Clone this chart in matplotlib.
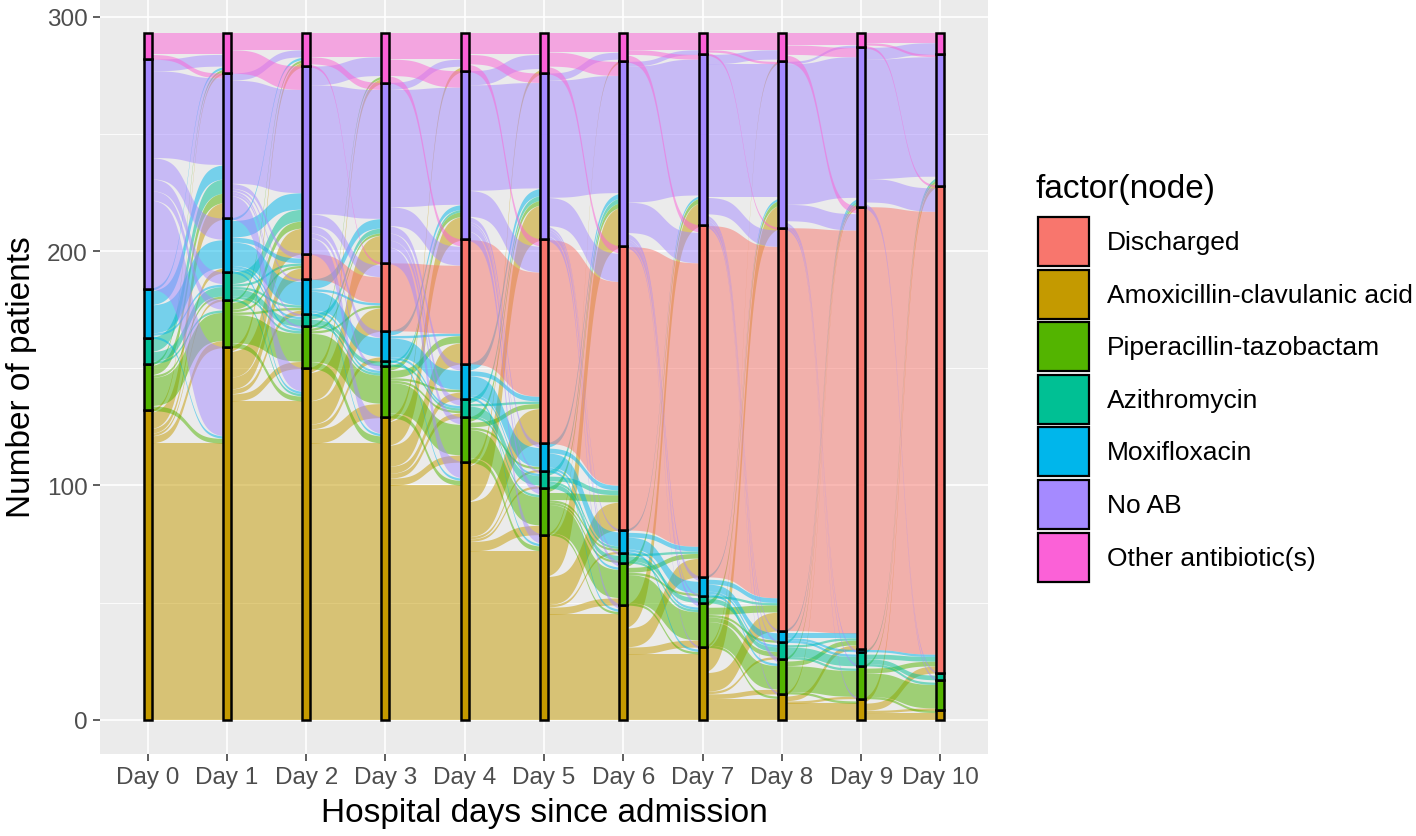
import matplotlib
matplotlib.use("Agg")

import matplotlib.pyplot as plt
from matplotlib.patches import Rectangle
import numpy as np

plt.rcParams["font.family"] = ["Liberation Sans", "DejaVu Sans"]

# ------------------------------------------------------------
# DATA
# ------------------------------------------------------------
days = ["Day 0", "Day 1", "Day 2", "Day 3", "Day 4", "Day 5",
        "Day 6", "Day 7", "Day 8", "Day 9", "Day 10"]

# legend order
legend_order = ["Discharged", "Amoxicillin-clavulanic acid",
                "Piperacillin-tazobactam", "Azithromycin",
                "Moxifloxacin", "No AB", "Other antibiotic(s)"]

# stacking order, bottom to top
stack_order = ["Amoxicillin-clavulanic acid", "Piperacillin-tazobactam",
               "Azithromycin", "Moxifloxacin", "Discharged", "No AB",
               "Other antibiotic(s)"]

colors = {
    "Discharged": "#F8766D",
    "Amoxicillin-clavulanic acid": "#C49A00",
    "Piperacillin-tazobactam": "#53B400",
    "Azithromycin": "#00C094",
    "Moxifloxacin": "#00B6EB",
    "No AB": "#A58AFF",
    "Other antibiotic(s)": "#FB61D7",
}

# patients per node and day
amox       = [132, 159, 150, 129, 110, 79, 49, 31, 11, 9, 4]
pip_tazo   = [20, 20, 18, 22, 19, 20, 18, 19, 15, 14, 13]
azithro    = [11, 12, 5, 2, 8, 7, 4, 3, 7, 6, 3]
moxi       = [21, 23, 15, 13, 15, 12, 10, 8, 5, 1, 0]
discharged = [0, 0, 11, 29, 53, 87, 121, 150, 172, 189, 208]
no_ab      = [98, 62, 80, 77, 72, 71, 79, 73, 71, 68, 56]
other_ab   = [11, 17, 14, 21, 16, 17, 12, 9, 12, 6, 9]

node_counts = [amox, pip_tazo, azithro, moxi, discharged, no_ab, other_ab]

# flows day t -> day t+1, rows = from, cols = to (stack order)
transitions = [
    # Day 0 -> Day 1
    [[118, 3, 1, 2, 0, 7, 1],
     [2, 12, 1, 0, 0, 4, 1],
     [0, 1, 4, 0, 0, 6, 0],
     [1, 0, 1, 12, 0, 6, 1],
     [0, 0, 0, 0, 0, 0, 0],
     [38, 4, 5, 9, 0, 37, 5],
     [0, 0, 0, 0, 0, 2, 9]],
    # Day 1 -> Day 2
    [[136, 3, 0, 2, 5, 11, 2],
     [2, 12, 0, 1, 1, 3, 1],
     [1, 1, 3, 1, 1, 5, 0],
     [1, 1, 1, 10, 2, 7, 1],
     [0, 0, 0, 0, 0, 0, 0],
     [10, 1, 1, 1, 2, 44, 3],
     [0, 0, 0, 0, 0, 10, 7]],
    # Day 2 -> Day 3
    [[118, 6, 0, 2, 10, 12, 2],
     [3, 12, 0, 0, 1, 1, 1],
     [0, 1, 2, 0, 0, 2, 0],
     [1, 1, 0, 8, 1, 4, 0],
     [0, 0, 0, 0, 11, 0, 0],
     [7, 2, 0, 3, 5, 55, 8],
     [0, 0, 0, 0, 1, 3, 10]],
    # Day 3 -> Day 4
    [[100, 3, 2, 3, 9, 10, 2],
     [2, 13, 1, 1, 3, 2, 0],
     [0, 0, 1, 0, 0, 1, 0],
     [1, 0, 1, 8, 1, 2, 0],
     [0, 0, 0, 0, 29, 0, 0],
     [7, 3, 3, 3, 8, 50, 3],
     [0, 0, 0, 0, 3, 7, 11]],
    # Day 4 -> Day 5
    [[72, 4, 1, 1, 15, 15, 2],
     [2, 12, 0, 1, 2, 2, 0],
     [0, 1, 4, 0, 1, 2, 0],
     [1, 0, 1, 8, 2, 3, 0],
     [0, 0, 0, 0, 53, 0, 0],
     [4, 3, 1, 2, 11, 45, 6],
     [0, 0, 0, 0, 3, 4, 9]],
    # Day 5 -> Day 6
    [[45, 3, 0, 1, 12, 17, 1],
     [1, 12, 1, 1, 3, 2, 0],
     [0, 0, 2, 1, 2, 2, 0],
     [1, 1, 0, 6, 2, 2, 0],
     [0, 0, 0, 0, 87, 0, 0],
     [2, 2, 1, 1, 12, 50, 3],
     [0, 0, 0, 0, 3, 6, 8]],
    # Day 6 -> Day 7
    [[28, 3, 0, 0, 8, 10, 0],
     [1, 12, 0, 1, 2, 2, 0],
     [0, 1, 2, 0, 1, 0, 0],
     [1, 1, 0, 5, 2, 1, 0],
     [0, 0, 0, 0, 121, 0, 0],
     [1, 2, 1, 2, 13, 58, 2],
     [0, 0, 0, 0, 3, 2, 7]],
    # Day 7 -> Day 8
    [[9, 2, 1, 0, 8, 10, 1],
     [1, 10, 2, 1, 3, 2, 0],
     [0, 0, 2, 0, 1, 0, 0],
     [0, 1, 1, 3, 2, 1, 0],
     [0, 0, 0, 0, 150, 0, 0],
     [1, 2, 1, 1, 7, 57, 4],
     [0, 0, 0, 0, 1, 1, 7]],
    # Day 8 -> Day 9
    [[7, 1, 0, 0, 2, 1, 0],
     [1, 11, 0, 0, 2, 1, 0],
     [0, 1, 4, 0, 1, 1, 0],
     [0, 0, 1, 1, 2, 1, 0],
     [0, 0, 0, 0, 172, 0, 0],
     [1, 1, 1, 0, 7, 60, 1],
     [0, 0, 0, 0, 3, 4, 5]],
    # Day 9 -> Day 10
    [[3, 1, 0, 0, 3, 2, 0],
     [1, 10, 0, 0, 2, 1, 0],
     [0, 1, 2, 0, 2, 1, 0],
     [0, 0, 0, 0, 1, 0, 0],
     [0, 0, 0, 0, 189, 0, 0],
     [0, 1, 1, 0, 10, 51, 5],
     [0, 0, 0, 0, 1, 1, 4]],
]

# ------------------------------------------------------------
# FIGURE
# ------------------------------------------------------------
W, H = 1416, 837
fig = plt.figure(figsize=(W / 100, H / 100), dpi=100)
ax = fig.add_axes([100 / W, 1 - 755 / H, 888 / W, 755 / H])
ax.set_facecolor("#EBEBEB")

n_days = len(days)
ncat = len(stack_order)
xs = np.arange(n_days)
node_w = 0.1

counts = np.array(node_counts, dtype=float)      # (ncat, n_days)
bottoms = np.vstack([np.zeros(n_days), np.cumsum(counts, axis=0)[:-1]])


def ribbon(x0, x1, a0, b0, a1, b1, color):
    t = np.linspace(0, 1, 120)
    s = 1 / (1 + np.exp(-11 * (t - 0.5)))
    s = (s - s[0]) / (s[-1] - s[0])
    xx = x0 + (x1 - x0) * t
    lo = a0 + (a1 - a0) * s
    hi = b0 + (b1 - b0) * s
    ax.fill_between(xx, lo, hi, color=color, alpha=0.5, lw=0, zorder=2)


# flows
for t, mat in enumerate(transitions):
    mat = np.array(mat, dtype=float)
    src_off = bottoms[:, t].copy()
    dst_off = bottoms[:, t + 1].copy()
    # destination offsets: stacked by source order
    dst_pos = np.zeros((ncat, ncat))
    for j in range(ncat):
        for i in range(ncat):
            dst_pos[i, j] = dst_off[j]
            dst_off[j] += mat[i, j]
    for i in range(ncat):
        for j in range(ncat):
            n = mat[i, j]
            if n <= 0:
                continue
            a0 = src_off[i]
            src_off[i] += n
            a1 = dst_pos[i, j]
            ribbon(xs[t], xs[t + 1], a0, a0 + n, a1, a1 + n,
                   colors[stack_order[i]])

# nodes
for k, cat in enumerate(stack_order):
    for d in range(n_days):
        if counts[k, d] <= 0:
            continue
        ax.add_patch(Rectangle((xs[d] - node_w / 2, bottoms[k, d]), node_w,
                               counts[k, d], facecolor=colors[cat],
                               edgecolor="black", lw=1.8, zorder=4))

# axes styling
ax.set_xlim(-0.6, n_days - 1 + 0.6)
ax.set_ylim(-14.65, 307.65)
ax.set_xticks(xs)
ax.set_xticklabels(days)
ax.set_yticks([0, 100, 200, 300])
ax.set_yticks([50, 150, 250], minor=True)
ax.grid(True, which="major", color="white", lw=1.2, zorder=0)
ax.grid(True, which="minor", axis="y", color="white", lw=0.6, zorder=0)
ax.set_axisbelow(True)
for sp in ax.spines.values():
    sp.set_visible(False)
ax.tick_params(axis="both", which="major", colors="#333333", length=5,
               width=1.1, labelsize=17.5, labelcolor="#4D4D4D", pad=4)
ax.tick_params(axis="both", which="minor", length=0)

fig.text(22 / W, 1 - 377 / H, "Number of patients", rotation=90,
         ha="center", va="center", fontsize=24)
fig.text(544 / W, 1 - 814 / H, "Hospital days since admission",
         ha="center", va="center", fontsize=24)

# legend
fig.text(1035 / W, 1 - 198 / H, "factor(node)", ha="left", va="baseline",
         fontsize=24)
key_top = 218
key_step = 52.6
for k, cat in enumerate(legend_order):
    y_top = key_top + k * key_step
    fig.add_artist(Rectangle((1038 / W, 1 - (y_top + 49) / H), 51 / W,
                             49 / H, facecolor=colors[cat], edgecolor="black",
                             lw=1.6, transform=fig.transFigure))
    fig.text(1107 / W, 1 - (y_top + 25) / H, cat, ha="left", va="center",
             fontsize=19)

fig.savefig("out.png", dpi=100)
